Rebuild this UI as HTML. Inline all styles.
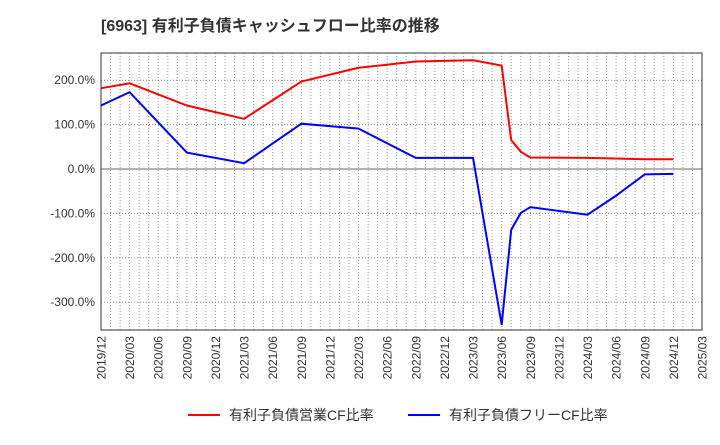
<!DOCTYPE html>
<html><head><meta charset="utf-8"><style>
body{margin:0;background:#fff;font-family:"Liberation Sans","Noto Sans CJK JP",sans-serif;}
</style></head><body>
<svg id="c" width="720" height="440" xmlns="http://www.w3.org/2000/svg" style="font-family:'Liberation Sans','Noto Sans CJK JP',sans-serif">
<text x="101" y="31" font-size="16" font-weight="bold" fill="#333">[6963]  有利子負債キャッシュフロー比率の推移</text>
<g id="grid"></g><g id="axes"></g><g id="series"></g>
<g>
<line x1="188" y1="415" x2="220" y2="415" stroke="#f00" stroke-width="2"/>
<text x="229" y="420" font-size="14" fill="#333">有利子負債営業CF比率</text>
<line x1="408" y1="415" x2="440" y2="415" stroke="#00f" stroke-width="2"/>
<text x="449" y="420" font-size="14" fill="#333">有利子負債フリーCF比率</text>
</g>
</svg>
<script>
const xLabels=["2019/12","2020/03","2020/06","2020/09","2020/12","2021/03","2021/06","2021/09","2021/12","2022/03","2022/06","2022/09","2022/12","2023/03","2023/06","2023/09","2023/12","2024/03","2024/06","2024/09","2024/12","2025/03"];
const yTicks=[200,100,0,-100,-200,-300];
const redMonths=[0,3,9,15,21,27,33,39,42,43,44,45,51,57,60];
const redValues=[182,193,143,113,197,228,242,245,233,65,39,26,25,22,22];
const blueMonths=[0,3,9,15,21,27,33,39,42,43,44,45,51,54,57,60];
const blueValues=[143,173,37,13,102,91,25,25,-351,-137,-99,-86,-103,-60,-12,-11];
const L=101,R=702,T=53,B=330;
const xs=m=>L+m*(R-L)/63;
const ys=v=>169-v*0.444;
const NS="http://www.w3.org/2000/svg";
function mk(t,a,p){const e=document.createElementNS(NS,t);for(const k in a)e.setAttribute(k,a[k]);p.appendChild(e);return e;}
const grid=document.getElementById('grid'),axes=document.getElementById('axes'),ser=document.getElementById('series');
for(let m=1;m<63;m++){const l=mk('line',{x1:xs(m),x2:xs(m),y1:T,y2:B,stroke:'#999','stroke-dasharray':'1,2','stroke-width':1},grid);

}
yTicks.forEach(v=>{const y=ys(v);
const l=mk('line',{x1:L,x2:R,y1:y,y2:y,stroke:v===0?'#666':'#888','stroke-dasharray':v===0?'':'1,2','stroke-width':1},grid);


const t=mk('text',{x:L-6,y:y+4,'text-anchor':'end','font-size':12,fill:'#333'},axes);t.textContent=v.toFixed(1)+'%';

});
xLabels.forEach((s,i)=>{const x=xs(i*3);
const t=mk('text',{transform:`translate(${x+4.5},${B+6}) rotate(-90)`,'text-anchor':'end','font-size':12,fill:'#333'},axes);t.textContent=s;

});
const f=mk('rect',{x:L,y:T,width:R-L,height:B-T,fill:'none',stroke:'#333','stroke-width':1},axes);


function line(ms,vs,c,n){const p=mk('polyline',{points:ms.map((m,i)=>xs(m)+','+ys(vs[i])).join(' '),fill:'none',stroke:c,'stroke-width':2},ser);

}
line(redMonths,redValues,'#f00','operating-cf-ratio-line');
line(blueMonths,blueValues,'#00f','free-cf-ratio-line');
</script>
</body></html>
